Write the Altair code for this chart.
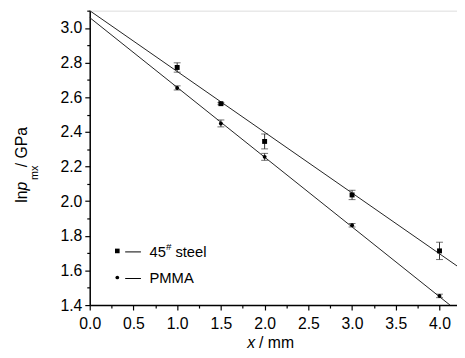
import altair as alt
import pandas as pd

# ---- data ----
xs = [1.0, 1.5, 2.0, 3.0, 4.0]
steel_y = [2.772, 2.563, 2.345, 2.036, 1.713]
steel_err = [0.027, 0.006, 0.043, 0.027, 0.05]
pmma_y = [2.654, 2.449, 2.256, 1.861, 1.453]
pmma_err = [0.012, 0.02, 0.02, 0.01, 0.01]

steel_fit_x = [0.0, 4.2]
steel_fit_y = [3.10, 1.626]
pmma_fit_x = [0.0, 4.12]
pmma_fit_y = [3.06, 1.40]

y_ticks = [round(1.4 + 0.1 * i, 1) for i in range(18)]
x_ticks = [0.25 * i for i in range(17)]

FONT = "Liberation Sans"

steel = pd.DataFrame({"x": xs, "y": steel_y,
                      "lo": [a - b for a, b in zip(steel_y, steel_err)],
                      "hi": [a + b for a, b in zip(steel_y, steel_err)]})
pmma = pd.DataFrame({"x": xs, "y": pmma_y,
                     "lo": [a - b for a, b in zip(pmma_y, pmma_err)],
                     "hi": [a + b for a, b in zip(pmma_y, pmma_err)]})
steel_fit = pd.DataFrame({"x": steel_fit_x, "y": steel_fit_y})
pmma_fit = pd.DataFrame({"x": pmma_fit_x, "y": pmma_fit_y})

xscale = alt.Scale(domain=[0, 4.2], nice=False, zero=False)
yscale = alt.Scale(domain=[1.4, 3.1], nice=False, zero=False)

xaxis = alt.Axis(
    title=None, grid=False, values=x_ticks,
    labelExpr="round(datum.value*4) % 2 == 0 ? format(datum.value, '.1f') : ''",
    tickSize={"condition": {"test": "round(datum.value*4) % 2 == 0", "value": 5}, "value": 3},
    labelFont=FONT, labelFontSize=16, labelColor="black", labelPadding=6,
    labelOverlap=False, labelFlush=False, labelBound=False,
    domainColor="black", domainWidth=1.5, tickColor="black", tickWidth=1.2,
)
yaxis = alt.Axis(
    title=None, grid=False, values=y_ticks,
    labelExpr="round(datum.value*10) % 2 == 0 ? format(datum.value, '.1f') : ''",
    tickSize={"condition": {"test": "round(datum.value*10) % 2 == 0", "value": 5}, "value": 3},
    labelFont=FONT, labelFontSize=16, labelColor="black", labelPadding=3,
    labelOverlap=False, labelFlush=False, labelBound=False,
    domainColor="black", domainWidth=1.5, tickColor="black", tickWidth=1.2,
)

X = alt.X("x:Q", scale=xscale, axis=xaxis)
Y = alt.Y("y:Q", scale=yscale, axis=yaxis)

fit1 = alt.Chart(steel_fit).mark_line(color="#222", strokeWidth=1).encode(x=X, y=Y)
fit2 = alt.Chart(pmma_fit).mark_line(color="#222", strokeWidth=1).encode(x=X, y=Y)

def errbars(df):
    return alt.Chart(df).mark_errorbar(
        ticks={"size": 7, "thickness": 1, "color": "#333"},
        rule={"strokeWidth": 1, "color": "#333"},
    ).encode(x=alt.X("x:Q", scale=xscale, axis=xaxis),
             y=alt.Y("lo:Q", scale=yscale, axis=yaxis),
             y2="hi:Q")

eb1 = errbars(steel)
eb2 = errbars(pmma)

pts1 = alt.Chart(steel).mark_square(size=25, color="black", opacity=1).encode(x=X, y=Y)
pts2 = alt.Chart(pmma).mark_circle(size=16, color="black", opacity=1).encode(x=X, y=Y)

def txt(s, x, y, size=16, style="normal", angle=0):
    return alt.Chart(pd.DataFrame({"t": [s]})).mark_text(
        font=FONT, fontSize=size, fontStyle=style, color="black",
        align="left", baseline="alphabetic", angle=angle,
    ).encode(text="t:N", x=alt.value(x), y=alt.value(y))

labels = [
    # y title: ln p_mx / GPa (rotated)
    txt("ln", -64, 195, angle=270),
    txt("p", -64, 182.5, style="italic", angle=270),
    txt("mx", -53, 172, size=11, angle=270),
    txt("/ GPa", -64, 159, angle=270),
    # x title: x / mm
    txt("x", 160, 343, style="italic"),
    txt("/ mm", 172, 343),
    # legend text
    txt("45", 60.7, 250, size=15),
    txt("#", 77.5, 243, size=10),
    txt("steel", 87, 250, size=15),
    txt("PMMA", 60.7, 277, size=15),
]

leg_df = pd.DataFrame({"k": [0]})
leg_sq = alt.Chart(leg_df).mark_square(size=22, color="black", opacity=1).encode(
    x=alt.value(28), y=alt.value(244))
leg_ci = alt.Chart(leg_df).mark_circle(size=14, color="black", opacity=1).encode(
    x=alt.value(28), y=alt.value(271))
leg_r1 = alt.Chart(leg_df).mark_rule(color="black", strokeWidth=1).encode(
    x=alt.value(36), x2=alt.value(52), y=alt.value(245))
leg_r2 = alt.Chart(leg_df).mark_rule(color="black", strokeWidth=1).encode(
    x=alt.value(36), x2=alt.value(52), y=alt.value(272))

chart = alt.layer(
    fit1, fit2, eb1, eb2, pts1, pts2, leg_sq, leg_ci, leg_r1, leg_r2, *labels
).properties(
    width=373, height=299,
    autosize=alt.AutoSizeParams(type="none"),
    padding={"left": 83, "top": 0, "right": 0, "bottom": 50},
).configure_view(stroke=None).configure(background="white")

chart.save("out.html", embed_options={"renderer": "svg", "actions": False})
